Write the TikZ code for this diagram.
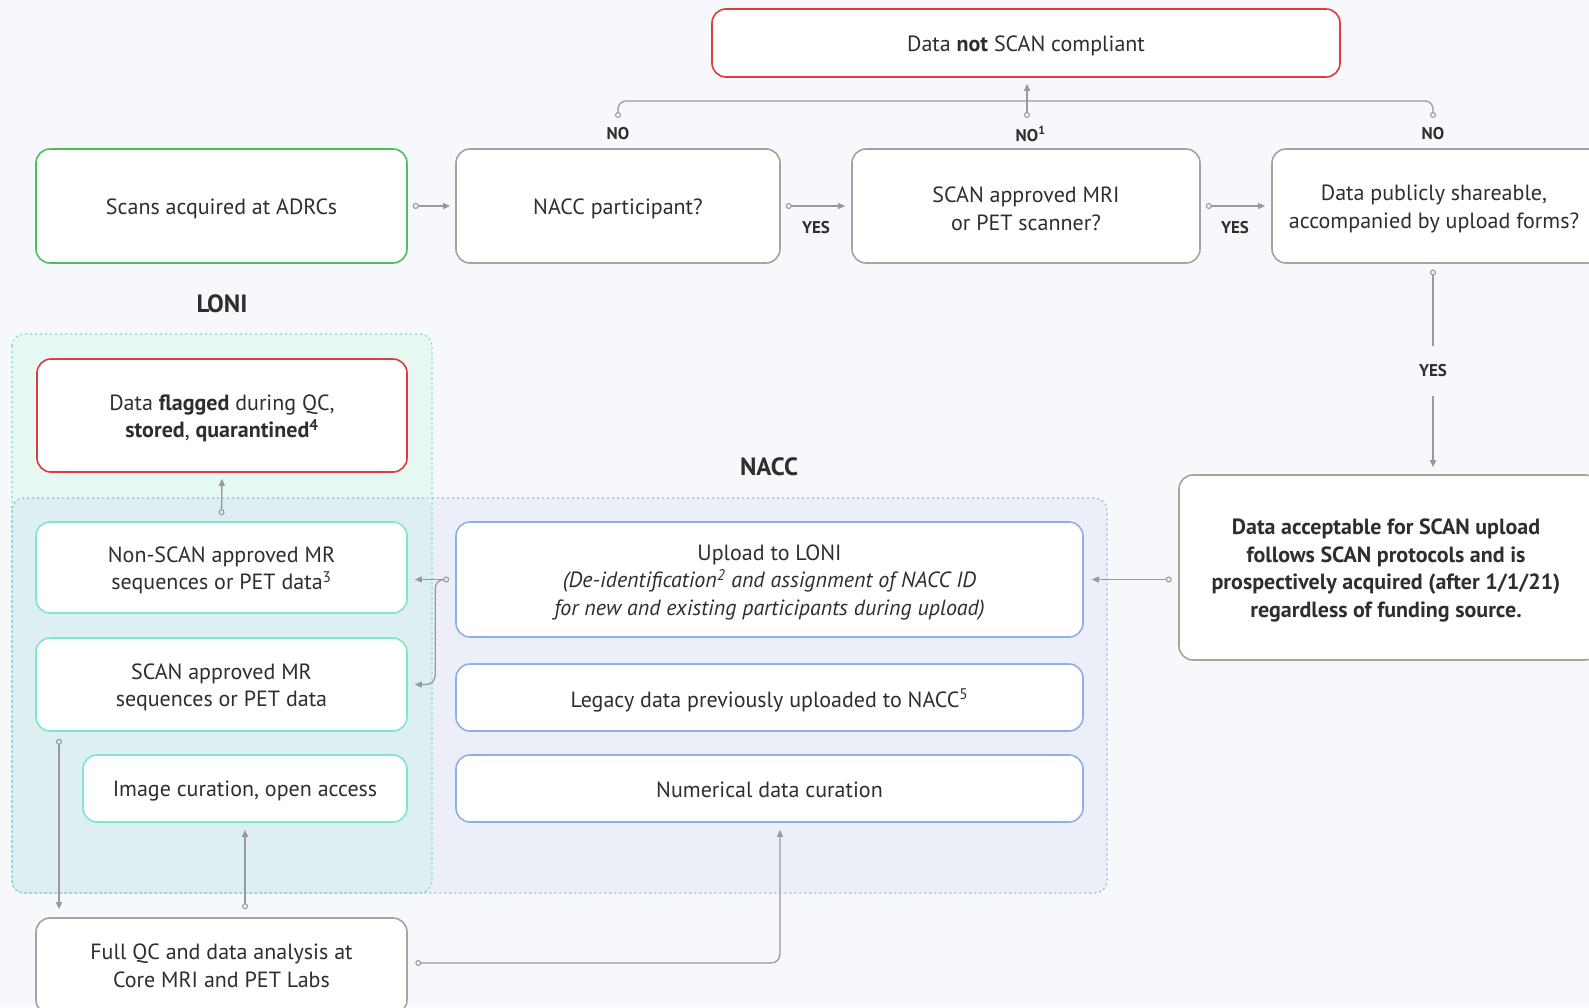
\documentclass[tikz,border=0pt]{standalone}
\usepackage{fontspec}
\setmainfont{PT Sans}
\usetikzlibrary{arrows.meta,calc}
\definecolor{bg}{HTML}{F7F8FC}
\definecolor{txt}{HTML}{2E2E2E}
\definecolor{grayb}{HTML}{A3A3A3}
\definecolor{conncol}{HTML}{9A9A9A}
\definecolor{greenb}{HTML}{4CC15A}
\definecolor{redb}{HTML}{E0393E}
\definecolor{tealb}{HTML}{7DE8C8}
\definecolor{blueb}{HTML}{8DB0E6}
\definecolor{lonifill}{HTML}{E6F8F2}
\definecolor{naccfill}{HTML}{ECEFF8}
\definecolor{bothfill}{HTML}{DDEFF3}
\definecolor{lonidot}{HTML}{7FD9C8}
\definecolor{naccdot}{HTML}{94B8E3}
\newcommand\mkbox[5]{%
  \node[box,#1] (#2) at #3 {};
  \node[btext,#4] (#2-t) at ($(#2.center)+(0,3)$) {#5};}
\begin{document}
\begin{tikzpicture}[x=1pt,y=-1pt,
  box/.style={draw=grayb, rounded corners=14, line width=1.6, fill=white, inner sep=0},
  btext/.style={align=center, text=txt, inner sep=0, font=\fontsize{22}{27.5}\selectfont},
  lbl/.style={text=txt, font=\fontsize{17}{20}\selectfont\bfseries, inner sep=1},
  region/.style={rounded corners=12, line width=1.2, dash pattern=on 2pt off 3pt},
  conn/.style={draw=conncol, line width=1.3},
  tipc/.tip={Circle[open, length=6pt, line width=1.1]},
  tipa/.tip={Triangle[length=7pt, width=6pt]},
  title/.style={text=txt, font=\fontsize{25}{30}\selectfont\bfseries}
]
\useasboundingbox (0,0) rectangle (1589,1007);
\fill[bg] (0,0) rectangle (1589,1007);

% regions
\fill[naccfill, rounded corners=12] (12,498) rectangle (1107,893);
\fill[lonifill, rounded corners=12] (12,334) rectangle (432,893);
\fill[bothfill, rounded corners=12] (12,498) rectangle (432,893);
\draw[region, draw=naccdot] (12,498) rectangle (1107,893);
\draw[region, draw=lonidot] (12,334) rectangle (432,893);

\node[title] (loni) at (222,304) {LONI};
\node[title] (nacct) at (769,467) {NACC};

% boxes
\mkbox{draw=redb, minimum width=628, minimum height=68}{notscan}{(1026,43)}{}{Data \textbf{not} SCAN compliant}
\mkbox{draw=greenb, minimum width=371, minimum height=114}{scans}{(221.5,206)}{}{Scans acquired at ADRCs}
\mkbox{minimum width=324, minimum height=114}{nacc}{(618,206)}{}{NACC participant?}
\mkbox{minimum width=348, minimum height=114}{approved}{(1026,206)}{}{SCAN approved MRI\\or PET scanner?}
\mkbox{minimum width=330, minimum height=114}{shareable}{(1437,206)}{xshift=-3}{Data publicly shareable,\\accompanied by upload forms?}
\mkbox{minimum width=420, minimum height=185}{accept}{(1389,567.5)}{xshift=-3, font=\fontsize{22}{27.5}\selectfont\bfseries}
  {Data acceptable for SCAN upload\\follows SCAN protocols and is\\prospectively acquired (after 1/1/21)\\regardless of funding source.}

\mkbox{draw=redb, minimum width=370, minimum height=113}{flagged}{(222,415.5)}{}{Data \textbf{flagged} during QC,\\\textbf{stored}, \textbf{quarantined}\textsuperscript{\textbf{4}}}
\mkbox{draw=tealb, minimum width=371, minimum height=91}{nonscan}{(221.5,567.5)}{}{Non-SCAN approved MR\\sequences or PET data\textsuperscript{3}}
\mkbox{draw=tealb, minimum width=371, minimum height=93}{scanapp}{(221.5,684.5)}{}{SCAN approved MR\\sequences or PET data}
\mkbox{draw=tealb, minimum width=324, minimum height=67}{imgcur}{(245,788.5)}{}{Image curation, open access}
\mkbox{minimum width=371, minimum height=96}{fullqc}{(221.5,966)}{yshift=3}{Full QC and data analysis at\\Core MRI and PET Labs}

\mkbox{draw=blueb, minimum width=627, minimum height=115}{upload}{(769.5,579.5)}{}{Upload to LONI\\\textit{(De-identification\textsuperscript{2} and assignment of NACC ID}\\\textit{for new and existing participants during upload)}}
\mkbox{draw=blueb, minimum width=627, minimum height=67}{legacy}{(769.5,697.5)}{}{Legacy data previously uploaded to NACC\textsuperscript{5}}
\mkbox{draw=blueb, minimum width=627, minimum height=67}{numcur}{(769.5,788.5)}{yshift=1.5}{Numerical data curation}

% labels
\node[lbl] (no1) at (618,134) {NO};
\node[lbl] (no2) at (1027,134) {NO\rlap{\textsuperscript{1}}};
\node[lbl] (no3) at (1433,134) {NO};
\node[lbl] (yes1) at (816,228) {YES};
\node[lbl] (yes2) at (1235,228) {YES};
\node[lbl, minimum height=50] (yes3) at (1433,371) {YES};

% connectors
\draw[conn, tipc-tipa] ($(scans.east)+(5,0)$) -- ($(nacc.west)+(-5,0)$);
\draw[conn, tipc-tipa] ($(nacc.east)+(5,0)$) -- ($(approved.west)+(-6,0)$);
\draw[conn, tipc-tipa] ($(approved.east)+(5,0)$) -- ($(shareable.west)+(-6,0)$);

\coordinate (c1) at (618,118);
\coordinate (c2) at (1027,118);
\coordinate (c3) at (1433,118);
\draw[conn, tipc-tipc, rounded corners=8] (c1) -- ++(0,-17) -| (c3);
\draw[conn, tipc-tipa] (c2) -- ($(notscan.south)+(1,6)$);

\coordinate (c4) at (1433,269.5);
\draw[conn, tipc-] (c4) -- (yes3.north);
\draw[conn, -tipa] (yes3.south) -- ($(yes3 |- accept.north)+(0,-7)$);

\draw[conn, tipc-tipa] ($(accept.west |- upload.east)+(-6.5,0)$) -- ($(upload.east)+(8,0)$);

\draw[conn, tipc-tipa] ($(upload.west)+(-6,0)$) -- ($(nonscan.east |- upload.west)+(7,0)$);
\draw[conn, -tipa, rounded corners=9] ($(upload.west)+(-12,0)$) -- ++(-8,0) |- ($(scanapp.east)+(7,0)$);

\draw[conn, tipc-tipa] ($(nonscan.north)+(0,-6)$) -- ($(flagged.south)+(0,6)$);

\draw[conn, tipc-tipa] ($(scanapp.south -| 59,0)+(0,7)$) -- ($(fullqc.north -| 59,0)+(0,-8)$);
\draw[conn, tipc-tipa] ($(fullqc.north -| imgcur.south)+(0,-8)$) -- ($(imgcur.south)+(0,7)$);
\draw[conn, tipc-tipa, rounded corners=9] ($(fullqc.east)+(7.5,-3)$) -| ($(numcur.south)+(10.5,7)$);
\end{tikzpicture}
\end{document}
